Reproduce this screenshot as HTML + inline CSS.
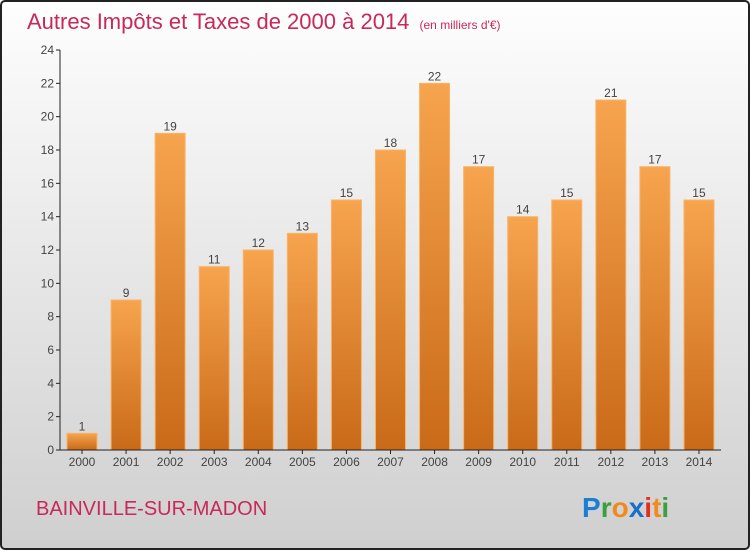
<!DOCTYPE html>
<html><head><meta charset="utf-8"><style>
html,body{margin:0;padding:0;}
body{width:750px;height:550px;overflow:hidden;font-family:"Liberation Sans",sans-serif;}
</style></head><body>
<svg width="750" height="550" xmlns="http://www.w3.org/2000/svg">
<defs>
<linearGradient id="bg" x1="0" y1="0" x2="0" y2="1"><stop offset="0" stop-color="#fefefe"/><stop offset="1" stop-color="#cfcfcf"/></linearGradient>
<linearGradient id="bar" x1="0" y1="0" x2="0" y2="1"><stop offset="0" stop-color="#f7a44e"/><stop offset="1" stop-color="#c96a18"/></linearGradient>
</defs>
<rect x="1" y="1" width="748" height="548" rx="4" fill="url(#bg)" stroke="#222" stroke-width="2"/>
<text x="27" y="29" font-size="22" fill="#c8285a">Autres Impôts et Taxes de 2000 à 2014 <tspan font-size="12" dx="4">(en milliers d'€)</tspan></text>
<g id="plot"></g>
<text x="36" y="515" font-size="20" fill="#c8285a">BAINVILLE-SUR-MADON</text>
<text x="582" y="517" font-size="28" font-weight="bold"><tspan fill="#1a7fd4">P</tspan><tspan fill="#3aa040">r</tspan><tspan fill="#f08a1c">o</tspan><tspan fill="#1a6fc8">x</tspan><tspan fill="#e03020">i</tspan><tspan fill="#f08a1c">t</tspan><tspan fill="#3aa040">i</tspan></text>
</svg>
<script>
const years=["2000","2001","2002","2003","2004","2005","2006","2007","2008","2009","2010","2011","2012","2013","2014"];
const values=[1,9,19,11,12,13,15,18,22,17,14,15,21,17,15];
const yTicks=[0,2,4,6,8,10,12,14,16,18,20,22,24];
const NS="http://www.w3.org/2000/svg";
const g=document.getElementById('plot');
const y0=450,yTop=50,yMax=24;
const yS=v=>y0-(v/yMax)*(y0-yTop);
const xS=i=>67+i*44.07;
function mk(t,a){const e=document.createElementNS(NS,t);for(const k in a)e.setAttribute(k,a[k]);g.appendChild(e);return e;}
yTicks.forEach(v=>{
 const l=mk('line',{x1:56,x2:60,y1:yS(v),y2:yS(v),stroke:'#222'});
 
 
 const t=mk('text',{x:54,y:yS(v)+4,'font-size':12,fill:'#444','text-anchor':'end'});
 t.textContent=v;
 
 
});
values.forEach((v,i)=>{
 const x=xS(i);
 const r=mk('rect',{x:x,y:yS(v),width:30,height:y0-yS(v),fill:'url(#bar)',stroke:'#f9b46a','stroke-width':1});
 
 
 const t=mk('text',{x:x+15,y:yS(v)-3,'font-size':12,fill:'#444','text-anchor':'middle'});
 t.textContent=v;
 
 
 const xl=mk('text',{x:x+15,y:466,'font-size':12,fill:'#444','text-anchor':'middle'});
 xl.textContent=years[i];
 
 
 const tk=mk('line',{x1:x+15,x2:x+15,y1:450,y2:454,stroke:'#222'});
 
 
});
const ya=mk('line',{x1:60,x2:60,y1:50,y2:450,stroke:'#222'});


const xa=mk('line',{x1:60,x2:721,y1:450,y2:450,stroke:'#222'});


</script>
</body></html>
